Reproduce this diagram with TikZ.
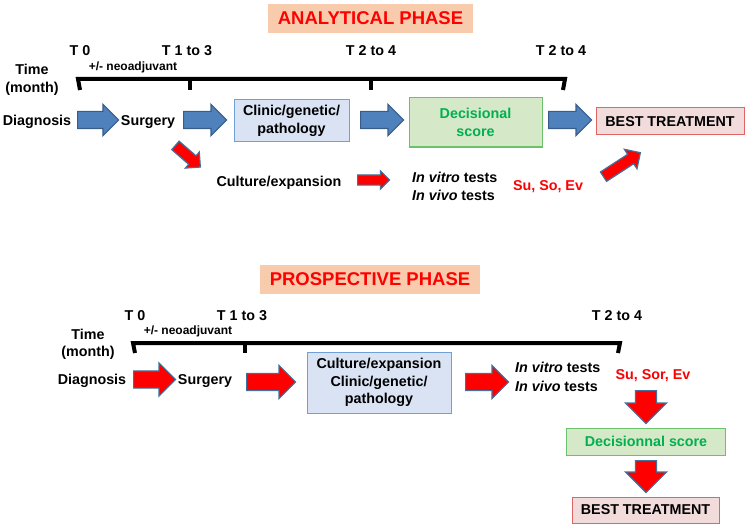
\documentclass[tikz,border=0pt]{standalone}
\usepackage{fontspec}
\setmainfont{Liberation Sans}
\usetikzlibrary{shapes.arrows}
\definecolor{bfill}{HTML}{4F81BD}
\definecolor{bdraw}{HTML}{385D8A}
\definecolor{rfill}{HTML}{FF0000}
\definecolor{rdraw}{HTML}{41719C}
\definecolor{titlefill}{HTML}{F8CBAD}
\definecolor{titletext}{HTML}{FF0000}
\definecolor{clinfill}{HTML}{DAE3F3}
\definecolor{clindraw}{HTML}{6FA0D8}
\definecolor{decfill}{HTML}{D5E8C8}
\definecolor{decdraw}{HTML}{6CC26C}
\definecolor{dectext}{HTML}{00B050}
\definecolor{bestfill}{HTML}{F2DCDB}
\definecolor{bestdraw}{HTML}{E06666}
\tikzset{
  lbl/.style={font=\bfseries\fontsize{14.3}{17.5}\selectfont, inner sep=0pt, align=center},
  small/.style={font=\bfseries\fontsize{12}{14}\selectfont, inner sep=0pt},
  titlebox/.style={fill=titlefill, text=titletext, font=\bfseries\fontsize{18.5}{20}\selectfont, inner sep=0pt},
  clinbox/.style={lbl, draw=clindraw, fill=clinfill, line width=1pt},
  decbox/.style={lbl, draw=decdraw, fill=decfill, text=dectext, line width=1pt},
  bestbox/.style={lbl, draw=bestdraw, fill=bestfill, line width=1pt},
  redtxt/.style={lbl, text=rfill},
  blockarrow/.style={single arrow, single arrow head indent=0pt, inner xsep=0pt, line width=1.2pt, anchor=tail},
  barrow/.style={blockarrow, draw=bdraw, fill=bfill, inner ysep=8pt, single arrow head extend=7pt, minimum height=#1},
  rarrow/.style={blockarrow, draw=rdraw, fill=rfill, inner ysep=8pt, single arrow head extend=8pt, minimum height=#1},
  rsmall/.style={blockarrow, draw=rdraw, fill=rfill, inner ysep=4.5pt, single arrow head extend=4pt, minimum height=#1},
  rdown/.style={blockarrow, draw=rdraw, fill=rfill, inner ysep=10pt, single arrow head extend=10pt, minimum height=#1, rotate=-90},
  tline/.style={line width=4pt}
}
\begin{document}
\begin{tikzpicture}[x=1pt,y=-1pt]
\useasboundingbox (0,0) rectangle (748,527);

% ================= ANALYTICAL PHASE =================
\node[titlebox, minimum width=205, minimum height=29] (title1) at (370.5,18.5) {ANALYTICAL PHASE};

\node[lbl] (a-t0) at (80,51) {T 0};
\node[lbl] (a-t13) at (187,51) {T 1 to 3};
\node[lbl] (a-t24a) at (371,51) {T 2 to 4};
\node[lbl] (a-t24b) at (561,51) {T 2 to 4};
\node[small] (a-neo) at (133,67) {+/- neoadjuvant};
\node[lbl] (a-time) at (32,80) {Time\\(month)};

\coordinate (a0) at (80,79);
\coordinate (a1) at (190,79);
\coordinate (a2) at (371,79);
\coordinate (a3) at (563,79);
\draw[tline] ([yshift=-11]a0) -- ([xshift=-2]a0) -- ([xshift=2]a3) -- ([yshift=-11]a3);
\draw[tline] (a1) -- ([yshift=-11]a1);
\draw[tline] (a2) -- ([yshift=-11]a2);

\node[lbl] (a-diag) at (37,122) {Diagnosis};
\node[barrow=41] (a-ar1) at (77,120) {};
\node[lbl] (a-surg) at (148,122) {Surgery};
\node[barrow=43] (a-ar2) at (183,120) {};
\node[clinbox, minimum width=115, minimum height=42] (a-clin) at (291.5,121) {Clinic/genetic/\\pathology};
\node[barrow=43] (a-ar3) at (360,120) {};
\node[decbox, minimum width=133, minimum height=49] (a-dec) at (475.5,122.5) {Decisional\\score};
\node[barrow=43] (a-ar4) at (548,120) {};
\node[bestbox, minimum width=148, minimum height=27] (a-best) at (670,121.5) {BEST TREATMENT};

\node[rsmall=33, inner ysep=5pt, single arrow head extend=5pt, rotate=-41] (a-d1) at (175,145) {};
\node[lbl] (a-cult) at (279,183) {Culture/expansion};
\node[rsmall=32] (a-ar5) at (357,180) {};
\node[lbl, anchor=west] (a-vitro) at (412,177) {\itshape In vitro\upshape{} tests};
\node[lbl, anchor=west] (a-vivo) at (412,195) {\itshape In vivo\upshape{} tests};
\node[redtxt] (a-su) at (548,187) {Su, So, Ev};
\node[rsmall=44, inner ysep=5pt, single arrow head extend=6pt, rotate=33] (a-d2) at (603,177) {};

% ================= PROSPECTIVE PHASE =================
\node[titlebox, minimum width=220, minimum height=29] (title2) at (370,279.5) {PROSPECTIVE PHASE};

\node[lbl] (p-t0) at (135,316) {T 0};
\node[lbl] (p-t13) at (242,316) {T 1 to 3};
\node[lbl] (p-t24) at (617,316) {T 2 to 4};
\node[small] (p-neo) at (188,331) {+/- neoadjuvant};
\node[lbl] (p-time) at (88,344.5) {Time\\(month)};

\coordinate (p0) at (135,343);
\coordinate (p1) at (245,343);
\coordinate (p2) at (618,343);
\draw[tline] ([yshift=-10]p0) -- ([xshift=-2]p0) -- ([xshift=2]p2) -- ([yshift=-10]p2);
\draw[tline] (p1) -- ([yshift=-10]p1);

\node[lbl] (p-diag) at (92,381) {Diagnosis};
\node[rarrow=42] (p-ar1) at (133,379.5) {};
\node[lbl] (p-surg) at (205,381) {Surgery};
\node[rarrow=49] (p-ar2) at (246,382) {};
\node[clinbox, minimum width=144, minimum height=61] (p-clin) at (379,382.5) {Culture/expansion\\Clinic/genetic/\\pathology};
\node[rarrow=43] (p-ar3) at (465,382) {};
\node[lbl, anchor=west] (p-vitro) at (515,367) {\itshape In vitro\upshape{} tests};
\node[lbl, anchor=west] (p-vivo) at (515,386) {\itshape In vivo\upshape{} tests};
\node[redtxt] (p-su) at (653,376) {Su, Sor, Ev};
\node[rdown=33] (p-dn1) at (646,390) {};
\node[decbox, minimum width=159, minimum height=27] (p-dec) at (646,441.5) {Decisionnal score};
\node[rdown=32] (p-dn2) at (646,460) {};
\node[bestbox, minimum width=147, minimum height=26] (p-best) at (645.5,510) {BEST TREATMENT};
\end{tikzpicture}
\end{document}
